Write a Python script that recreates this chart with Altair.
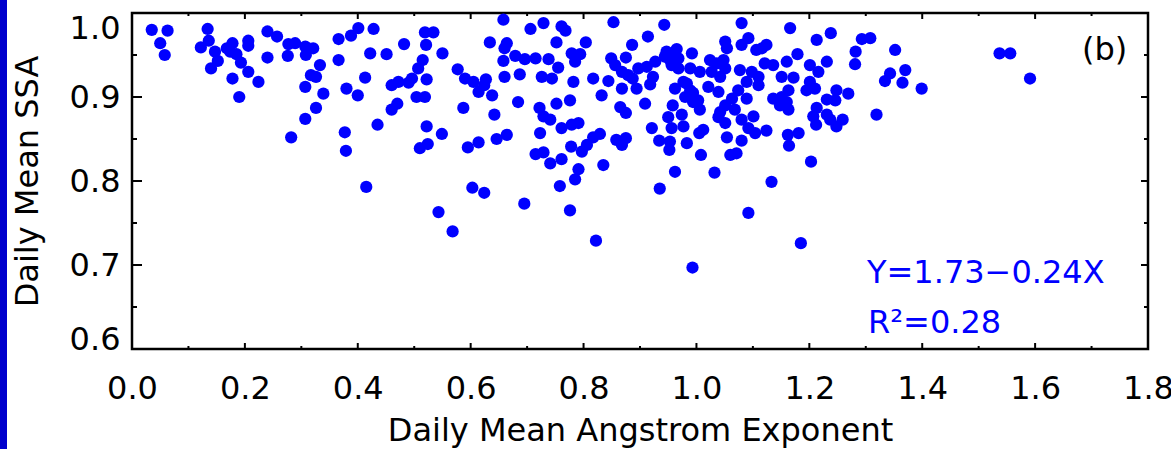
import altair as alt
import pandas as pd

# Daily mean Angstrom exponent (x) and daily mean SSA (y)
ae = [
    0.035, 0.063, 0.050, 0.058, 0.134, 0.136, 0.122, 0.147, 0.152, 0.140, 0.168, 0.178, 0.174, 0.185,
    0.193, 0.178, 0.190, 0.206, 0.206, 0.206, 0.224, 0.240, 0.257, 0.240, 0.277, 0.276, 0.282,
    0.289, 0.307, 0.321, 0.308, 0.333, 0.317, 0.326, 0.307, 0.339, 0.326, 0.307, 0.366, 0.388, 0.401,
    0.428, 0.366, 0.422, 0.451, 0.413, 0.380, 0.400, 0.482, 0.519, 0.534, 0.521, 0.550, 0.515, 0.507,
    0.522, 0.460, 0.472, 0.490, 0.496, 0.504, 0.519, 0.460, 0.470, 0.435, 0.377, 0.379, 0.415, 0.522,
    0.549, 0.510, 0.524,
    0.658, 0.706, 0.729, 0.761, 0.768, 0.634, 0.664, 0.660, 0.752, 0.804, 0.658, 0.679, 0.696, 0.715,
    0.738, 0.755, 0.779, 0.794, 0.785, 0.577, 0.590, 0.605, 0.614, 0.627, 0.624, 0.660, 0.687, 0.726,
    0.744, 0.638, 0.587, 0.642, 0.684, 0.722, 0.729, 0.741, 0.752, 0.776, 0.782, 0.817, 0.832, 0.761,
    0.779, 0.791, 0.595, 0.614, 0.646, 0.664, 0.723, 0.715, 0.729, 0.741, 0.761, 0.778, 0.797, 0.806,
    0.817, 0.829, 0.791, 0.785, 0.758, 0.835, 0.603, 0.624, 0.695,
    0.543, 0.568, 0.776, 0.822, 0.993, 1.092, 1.133, 1.185, 0.935,
    0.853, 0.943, 1.080, 0.914, 0.886, 0.875, 0.849, 0.856, 0.868, 0.879, 0.897, 0.912, 0.927, 0.923,
    0.918, 0.947, 0.965, 0.953, 0.968, 0.956, 0.968, 0.992, 0.989, 1.006, 0.844, 0.868, 0.894, 0.909,
    0.865, 0.875, 0.962, 0.977, 0.989, 0.980, 0.994, 1.006, 1.003, 0.958, 0.974, 0.950, 1.021, 1.039,
    1.024, 1.036, 1.048, 1.051, 1.054, 1.051, 1.042, 1.027, 1.092, 1.080, 1.106, 1.077, 1.098, 1.089,
    1.074, 1.063, 1.089, 1.051, 1.042, 1.068, 1.039, 1.051, 1.080, 1.101, 1.092, 1.104, 0.858, 0.868,
    0.875, 0.921, 0.934, 0.953, 0.952, 0.956, 0.977, 1.005, 1.012, 0.983, 1.008, 1.054, 1.080, 1.060,
    1.071, 0.962, 1.032, 0.944, 0.962, 0.983, 0.994, 0.887,
    1.166, 1.213, 1.238, 1.116, 1.124, 1.179, 1.282, 1.293, 1.308, 1.281, 1.352, 1.343, 1.334, 1.370,
    1.365, 1.319, 1.121, 1.136, 1.160, 1.110, 1.151, 1.172, 1.201, 1.231, 1.216, 1.201, 1.195, 1.210,
    1.248, 1.269, 1.231, 1.246, 1.136, 1.151, 1.160, 1.163, 1.148, 1.163, 1.110, 1.213, 1.207, 1.212,
    1.231, 1.237, 1.248, 1.259, 1.124, 1.162, 1.181, 1.164, 1.203,
    1.399, 1.537, 1.556, 1.591,
]
ssa = [
    0.980, 0.979, 0.964, 0.950, 0.981, 0.967, 0.959, 0.954, 0.943, 0.934, 0.958, 0.964, 0.954, 0.951,
    0.941, 0.922, 0.900, 0.967, 0.961, 0.930, 0.918, 0.978, 0.972, 0.947, 0.963, 0.949, 0.852,
    0.964, 0.960, 0.958, 0.950, 0.938, 0.926, 0.924, 0.912, 0.904, 0.887, 0.874, 0.969, 0.973, 0.982,
    0.981, 0.944, 0.952, 0.951, 0.923, 0.910, 0.902, 0.963, 0.977, 0.977, 0.962, 0.952, 0.944, 0.934,
    0.921, 0.914, 0.918, 0.917, 0.922, 0.900, 0.900, 0.885, 0.892, 0.867, 0.858, 0.836, 0.793, 0.865,
    0.856, 0.839, 0.844,
    0.992, 0.981, 0.988, 0.984, 0.979, 0.965, 0.964, 0.958, 0.965, 0.965, 0.943, 0.949, 0.945, 0.946,
    0.945, 0.935, 0.952, 0.951, 0.942, 0.933, 0.922, 0.918, 0.906, 0.921, 0.914, 0.924, 0.927, 0.924,
    0.922, 0.902, 0.887, 0.879, 0.894, 0.887, 0.877, 0.873, 0.892, 0.896, 0.918, 0.922, 0.902, 0.863,
    0.867, 0.869, 0.840, 0.846, 0.850, 0.855, 0.857, 0.832, 0.834, 0.821, 0.826, 0.841, 0.835, 0.843,
    0.852, 0.856, 0.814, 0.802, 0.794, 0.819, 0.792, 0.786, 0.773,
    0.763, 0.740, 0.765, 0.729, 0.697, 0.762, 0.799, 0.726, 0.791,
    0.989, 0.986, 0.988, 0.972, 0.962, 0.947, 0.946, 0.938, 0.930, 0.926, 0.934, 0.936, 0.942, 0.924,
    0.915, 0.954, 0.957, 0.944, 0.946, 0.938, 0.934, 0.952, 0.934, 0.930, 0.919, 0.910, 0.910, 0.892,
    0.888, 0.881, 0.910, 0.918, 0.908, 0.900, 0.894, 0.885, 0.896, 0.890, 0.879, 0.876, 0.912, 0.906,
    0.944, 0.940, 0.944, 0.966, 0.958, 0.934, 0.924, 0.930, 0.970, 0.962, 0.956, 0.932, 0.930, 0.918,
    0.908, 0.898, 0.898, 0.890, 0.882, 0.885, 0.876, 0.869, 0.873, 0.877, 0.863, 0.857, 0.849, 0.843,
    0.851, 0.863, 0.848, 0.847, 0.837, 0.863, 0.865, 0.857, 0.861, 0.845, 0.831, 0.852, 0.848, 0.831,
    0.833, 0.811, 0.810, 0.948, 0.950, 0.916, 0.905, 0.922,
    0.982, 0.968, 0.976, 0.958, 0.962, 0.951, 0.954, 0.969, 0.970, 0.939, 0.956, 0.928, 0.919, 0.932,
    0.917, 0.879, 0.940, 0.938, 0.942, 0.924, 0.924, 0.923, 0.938, 0.942, 0.930, 0.918, 0.908, 0.910,
    0.908, 0.904, 0.897, 0.896, 0.898, 0.900, 0.894, 0.885, 0.890, 0.908, 0.914, 0.887, 0.877, 0.867,
    0.879, 0.873, 0.865, 0.873, 0.860, 0.855, 0.857, 0.842, 0.823,
    0.910, 0.952, 0.952, 0.922,
]

x_major = [0.0, 0.2, 0.4, 0.6, 0.8, 1.0, 1.2, 1.4, 1.6, 1.8]
x_minor = [0.1, 0.3, 0.5, 0.7, 0.9, 1.1, 1.3, 1.5, 1.7]
y_major = [0.6, 0.7, 0.8, 0.9, 1.0]
y_minor = [0.65, 0.75, 0.85, 0.95]

eq_text = "Y=1.73\u22120.24X"
r2_text = "R\u00b2=0.28"
panel_text = "(b)"

W, H = 1016, 336
FONT = "DejaVu Sans"
BLUE = "#0000FF"

xscale = alt.Scale(domain=[0, 1.8], nice=False, zero=False)
yscale = alt.Scale(domain=[0.6, 1.0], nice=False, zero=False)

df = pd.DataFrame({"x": ae, "y": ssa})

points = alt.Chart(df).mark_circle(size=150, color=BLUE, opacity=1).encode(
    x=alt.X("x:Q", scale=xscale,
            axis=alt.Axis(values=x_major, format=".1f", title="Daily Mean Angstrom Exponent",
                          ticks=False, tickSize=0, domain=False, grid=False, labelFlush=False,
                          labelFont=FONT, labelFontSize=32, labelColor="black", labelPadding=24,
                          titleFont=FONT, titleFontSize=32, titleFontWeight="normal", titleColor="black",
                          titleY=91, titleBaseline="alphabetic")),
    y=alt.Y("y:Q", scale=yscale,
            axis=alt.Axis(values=y_major, format=".1f", title="Daily Mean SSA",
                          ticks=False, tickSize=0, domain=False, grid=False,
                          labelFont=FONT, labelFontSize=32, labelColor="black", labelPadding=12,
                          labelBaseline={"condition": [{"test": "datum.value <= 0.6", "value": "alphabetic"},
                                                       {"test": "datum.value >= 1", "value": "top"}],
                                         "value": "middle"},
                          titleFont=FONT, titleFontSize=32, titleFontWeight="normal", titleColor="black",
                          titleX=-95, titleBaseline="alphabetic")),
)

def xticks(vals, length):
    d = pd.DataFrame({"x": vals})
    bottom = alt.Chart(d).mark_rule(color="black", strokeWidth=2).encode(
        x=alt.X("x:Q", scale=xscale), y=alt.value(H - length), y2=alt.value(H))
    top = alt.Chart(d).mark_rule(color="black", strokeWidth=2).encode(
        x=alt.X("x:Q", scale=xscale), y=alt.value(0), y2=alt.value(length))
    return [bottom, top]

def yticks(vals, left_len, right_len):
    d = pd.DataFrame({"y": vals})
    left = alt.Chart(d).mark_rule(color="black", strokeWidth=2).encode(
        y=alt.Y("y:Q", scale=yscale), x=alt.value(0), x2=alt.value(left_len))
    right = alt.Chart(d).mark_rule(color="black", strokeWidth=2).encode(
        y=alt.Y("y:Q", scale=yscale), x=alt.value(W - right_len), x2=alt.value(W))
    return [left, right]

def label(txt, px, py, size, color, baseline="alphabetic"):
    return alt.Chart(pd.DataFrame({"t": [txt]})).mark_text(
        font=FONT, fontSize=size, color=color, align="left", baseline=baseline
    ).encode(text="t:N", x=alt.value(px), y=alt.value(py))

strip = alt.Chart(pd.DataFrame({"a": [0]})).mark_rect(color="#0000CD").encode(
    x=alt.value(-132), x2=alt.value(-125), y=alt.value(-13), y2=alt.value(436))

layers = [points, strip] + xticks(x_major, 6) + xticks(x_minor, 3) + yticks(y_major, 10, 7) + yticks(y_minor, 5, 4) + [
    label(eq_text, 735, 270, 32, BLUE),
    label(r2_text, 736, 320, 32, BLUE),
    label(panel_text, 950, 47, 32, "black"),
]

chart = alt.layer(*layers).properties(
    width=W, height=H,
    background="white",
    padding={"left": 132, "top": 13, "right": 23, "bottom": 100},
    autosize=alt.AutoSizeParams(type="none"),
).configure_view(stroke="black", strokeWidth=2.5)

chart.save("out.html", embed_options={"renderer": "svg", "actions": False})
